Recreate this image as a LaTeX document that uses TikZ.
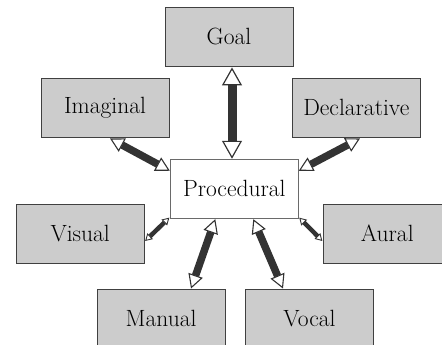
\documentclass[tikz,border=0pt]{standalone}
\usetikzlibrary{arrows.meta}
\definecolor{boxfill}{HTML}{CCCCCC}
\definecolor{boxline}{HTML}{404040}
\definecolor{procline}{HTML}{6A6A6A}
\definecolor{shaft}{HTML}{333333}
\tikzset{
  module/.style={draw=boxline, fill=boxfill, line width=0.9pt, minimum width=128pt, minimum height=59pt, inner sep=0pt, font=\fontsize{23.5}{28}\selectfont},
  central/.style={module, fill=white, draw=procline},
  bigarrow/.style={draw=shaft, line width=9pt,
    {Triangle[length=18pt,width=20pt,line width=1.2pt,fill=white]}-{Triangle[length=18pt,width=20pt,line width=1.2pt,fill=white]}},
  midarrow/.style={draw=shaft, line width=7.5pt,
    {Triangle[length=14pt,width=15pt,line width=1.1pt,fill=white]}-{Triangle[length=14pt,width=15pt,line width=1.1pt,fill=white]}},
  smallarrow/.style={draw=shaft, line width=4.5pt,
    {Triangle[length=7pt,width=8pt,line width=0.9pt,fill=white]}-{Triangle[length=7pt,width=8pt,line width=0.9pt,fill=white]}}
}
\begin{document}
\begin{tikzpicture}[x=1pt,y=-1pt]
\useasboundingbox (0,0) rectangle (442,345);
\node[module]  (goal) at (229,36.5) {Goal};
\node[module]  (imag) at (105,107.5) {Imaginal};
\node[module]  (decl) at (356.3,107.5) {Declarative};
\node[central] (proc) at (234.3,188.7) {Procedural};
\node[module]  (vis)  at (80.2,233.7) {Visual};
\node[module]  (aur)  at (387.3,233.7) {Aural};
\node[module]  (man)  at (161,318.5) {Manual};
\node[module]  (voc)  at (309.5,318.5) {Vocal};

\draw[bigarrow] ([xshift=3pt,yshift=-1pt]goal.south) -- ([xshift=-2.3pt]proc.north);
\draw[midarrow] ([xshift=5pt,yshift=-1pt]imag.south) -- ([yshift=-12pt]proc.north west);
\draw[midarrow] ([xshift=3.7pt,yshift=-1pt]decl.south) -- ([yshift=-12pt]proc.north east);
\draw[smallarrow] ([xshift=-0.5pt,yshift=1pt]proc.south west) -- ([xshift=0.5pt,yshift=-7.3pt]vis.east);
\draw[smallarrow] ([xshift=0.5pt,yshift=1pt]proc.south east) -- ([xshift=-0.5pt,yshift=-7.3pt]aur.west);
\draw[midarrow] ([xshift=-19pt,yshift=-0.5pt]proc.south) -- ([xshift=30pt]man.north);
\draw[midarrow] ([xshift=19pt,yshift=-0.5pt]proc.south) -- ([xshift=-26.5pt]voc.north);
\end{tikzpicture}
\end{document}
